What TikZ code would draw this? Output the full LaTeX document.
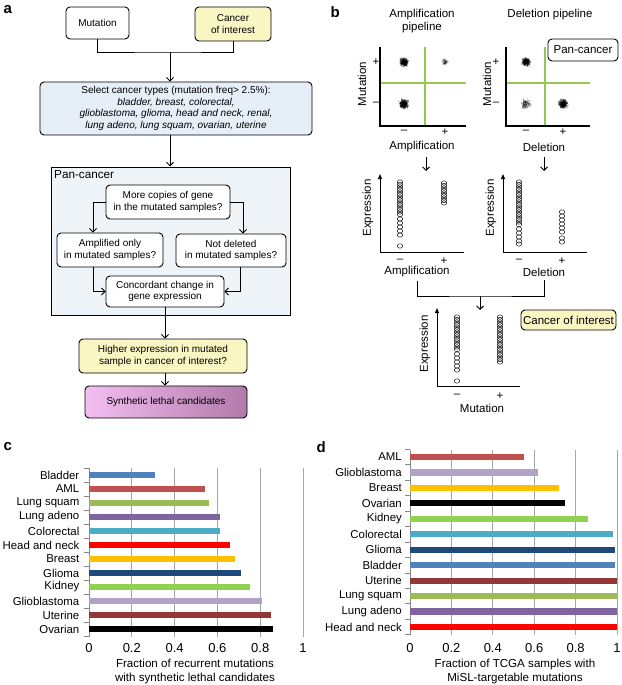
\documentclass[tikz,border=0pt]{standalone}
\usepackage{fontspec}
\setmainfont{Liberation Sans}
\usetikzlibrary{arrows.meta}
\definecolor{yel}{HTML}{FAF6C4}
\definecolor{lblue}{HTML}{E6EEF8}
\definecolor{pblue}{HTML}{EFF4F9}
\definecolor{scatgreen}{RGB}{150,200,80}
\definecolor{gridg}{HTML}{A6A6A6}
\definecolor{axg}{HTML}{888888}
\definecolor{pinkL}{HTML}{F3BEF1}
\definecolor{pinkR}{HTML}{B07AAA}
\definecolor{cBlue}{HTML}{4F81BD}
\definecolor{cRed}{HTML}{C0504D}
\definecolor{cGreen}{HTML}{9BBB59}
\definecolor{cPurple}{HTML}{8064A2}
\definecolor{cCyan}{HTML}{4BACC6}
\definecolor{cBright}{HTML}{FF0000}
\definecolor{cOrange}{HTML}{FFC000}
\definecolor{cNavy}{HTML}{1F497D}
\definecolor{cLime}{HTML}{92D050}
\definecolor{cLilac}{HTML}{B3A2C7}
\definecolor{cMaroon}{HTML}{943634}
\definecolor{cBlack}{HTML}{000000}
\newcommand\fsa{\fontsize{10}{11.5}\selectfont}
\newcommand\fsb{\fontsize{11.5}{13}\selectfont}
\newcommand\fsc{\fontsize{11.6}{14}\selectfont}
\newcommand\fscat{\fontsize{11.4}{14}\selectfont}
\newcommand\fst{\fontsize{13}{15}\selectfont}
\newcommand\fsl{\fontsize{15}{17}\selectfont\bfseries}
\newcommand\drawcluster[4]{%
  \foreach \i in {1,...,#2}{%
    \pgfmathsetmacro\dx{#3*(rand+rand+rand)}%
    \pgfmathsetmacro\dy{#3*(rand+rand+rand)}%
    \fill[black,opacity=#4] ([shift={(\dx,\dy)}]#1) circle (0.8);
  }}
\newcommand\expcol[2]{%
  \foreach \yy in {#2}{\draw[line width=0.5pt] (#1,\yy) ellipse (2.7 and 2.2);}}
\tikzset{
  box/.style={draw, line width=0.9pt, rounded corners=4pt, align=center, font=\fsa, inner sep=1pt},
  arr/.style={-{Straight Barb[length=3.5pt,width=7pt]}, line width=0.9pt},
  ln/.style={line width=0.9pt},
  axarr/.style={-{Triangle[length=5pt,width=4pt]}, line width=1pt},
  panlab/.style={font=\fsl, anchor=west},
  catlab/.style={font=\fscat, anchor=east},
  ticklab/.style={font=\fst},
  gline/.style={draw=scatgreen, line width=1.3pt},
}
\begin{document}
\begin{tikzpicture}[x=1pt,y=-1pt]
\useasboundingbox (0,0) rectangle (621,685);
\pgfmathsetseed{7}
% ---------------- panel a ----------------
\node[panlab] (la) at (0,10) {a};
\node[box, fill=white, minimum width=63, minimum height=32] (mut) at (97.5,23) {Mutation};
\node[box, fill=yel, minimum width=76, minimum height=34] (coi) at (233,24) {Cancer\\of interest};
\node[box, fill=lblue, minimum width=272, minimum height=53] (sel) at (176,108.5)
  {Select cancer types (mutation freq> 2.5\%):\\\textit{bladder, breast, colorectal,}\\\textit{glioblastoma, glioma, head and neck, renal,}\\\textit{lung adeno, lung squam, ovarian, uterine}};
\node[draw, line width=1pt, fill=pblue, minimum width=239, minimum height=148, inner sep=0] (pan) at (170.5,241) {};
\node[font=\fontsize{11.7}{13}\selectfont, anchor=west, inner sep=0] (panlabel) at (54,175) {Pan-cancer};
\node[box, fill=white, minimum width=124, minimum height=34] (more) at (168,202) {More copies of gene\\in the mutated samples?};
\node[box, fill=white, minimum width=106, minimum height=34] (ampl) at (110,250) {Amplified only\\in mutated samples?};
\node[box, fill=white, minimum width=110, minimum height=33] (notd) at (231,250.5) {Not deleted\\in mutated samples?};
\node[box, fill=white, minimum width=118, minimum height=31] (conc) at (165,291.5) {Concordant change in\\gene expression};
\node[box, fill=yel, minimum width=168, minimum height=34] (high) at (163,356) {Higher expression in mutated\\sample in cancer of interest?};
\node[box, left color=pinkL, right color=pinkR, minimum width=162, minimum height=32] (syn) at (166,402) {Synthetic lethal candidates};
\coordinate (j1) at (170,52);
\coordinate (aL) at (93,0);
\coordinate (aR) at (243,0);
\coordinate (bR) at (240,0);
\coordinate (cx) at (165,0);
\draw[ln] (mut.south) |- (j1) -| (coi.south);
\draw[arr] (j1) -- (j1 |- sel.north);
\draw[arr] (j1 |- sel.south) -- (j1 |- pan.north);
\draw[arr] (more.west) -| (aL |- ampl.north);
\draw[arr] (more.east) -| (aR |- notd.north);
\draw[arr] (aL |- ampl.south) |- (conc.west);
\draw[arr] (bR |- notd.south) |- (conc.east);
\draw[arr] (cx |- conc.south) -- (cx |- high.north);
\draw[arr] (cx |- high.south) -- (cx |- syn.north);
% ---------------- panel b ----------------
\node[panlab] (lb) at (327,12) {b};
\node[font=\fsb, align=center] (amppipe) at (422,21.5) {Amplification\\pipeline};
\node[font=\fsb] (delpipe) at (550,15) {Deletion pipeline};
\node[box, font=\fsb, fill=white, minimum width=70, minimum height=22] (pcb) at (583,50) {Pan-cancer};
% scatter 1
\path[gline] (425,47) -- (425,126);
\path[gline] (380,83) -- (466,83);
\draw[line width=1.1pt] (380,47) -- (380,126) -- (466,126);
\coordinate (c11) at (404,62);
\coordinate (c12) at (404,104);
\coordinate (c13) at (445,62);
\drawcluster{c11}{320}{1.8}{0.32}
\drawcluster{c12}{320}{1.9}{0.32}
\drawcluster{c13}{60}{1.3}{0.22}
\node[font=\fsb, rotate=90] (mt1) at (362,84) {Mutation};
\node[font=\fsb] (p1p) at (376,62) {+};
\node[font=\fsb] (p1m) at (376,104) {--};
\node[font=\fsb] (p1xm) at (404,132) {--};
\node[font=\fsb] (p1xp) at (445,132) {+};
\node[font=\fsb] (amplab1) at (422,147) {Amplification};
\coordinate (a1s) at (426,157);
\coordinate (a1e) at (426,171);
\draw[arr] (a1s) -- (a1e);
% scatter 2
\path[gline] (545,47) -- (545,126);
\path[gline] (506,83) -- (590,83);
\draw[line width=1.1pt] (506,47) -- (506,126) -- (590,126);
\coordinate (c21) at (526,62);
\coordinate (c22) at (526,104);
\coordinate (c23) at (563,104);
\drawcluster{c21}{280}{1.7}{0.32}
\drawcluster{c22}{120}{2.2}{0.25}
\drawcluster{c23}{320}{1.9}{0.32}
\node[font=\fsb, rotate=90] (mt2) at (487,84) {Mutation};
\node[font=\fsb] (p2p) at (496,62) {+};
\node[font=\fsb] (p2m) at (496,104) {--};
\node[font=\fsb] (p2xm) at (526,132) {--};
\node[font=\fsb] (p2xp) at (563,132) {+};
\node[font=\fsb] (dellab1) at (544,147) {Deletion};
\coordinate (d1s) at (544,157);
\coordinate (d1e) at (544,171);
\draw[arr] (d1s) -- (d1e);
% expression 1
\draw[axarr] (380,252) -- (380,174);
\draw[line width=1pt] (380,252) -- (464,252);
\expcol{400}{182,184.5,...,214.5,219,223,227,231,235,246}
\expcol{444}{183,185.5,...,203}
\node[font=\fsb, rotate=90] (ex1) at (368,208) {Expression};
\node[font=\fsb] (e1m) at (400,261) {--};
\node[font=\fsb] (e1p) at (444,261) {+};
\node[font=\fsb] (amplab2) at (417,272) {Amplification};
% expression 2
\draw[axarr] (503,252) -- (503,174);
\draw[line width=1pt] (503,252) -- (587,252);
\expcol{519}{182,184.5,...,224.5,229,233,237,241,244}
\expcol{562}{212,216,220,224,228,232,238,242}
\node[font=\fsb, rotate=90] (ex2) at (491,208) {Expression};
\node[font=\fsb] (e2m) at (519,261) {--};
\node[font=\fsb] (e2p) at (562,261) {+};
\node[font=\fsb] (dellab2) at (544,272) {Deletion};
% merge
\coordinate (mj) at (480,296);
\coordinate (me) at (480,310);
\draw[ln] (amplab2.south) |- (mj) -| (dellab2.south);
\draw[arr] (mj) -- (me);
% expression 3
\draw[axarr] (437,386) -- (437,308);
\draw[line width=1pt] (437,386) -- (520,386);
\expcol{457}{317,319.5,...,349.5,354,358,362,366,370,381}
\expcol{500}{317,319.5,...,362}
\node[font=\fsb, rotate=90] (ex3) at (425,344) {Expression};
\node[font=\fsb] (e3m) at (457,396) {--};
\node[font=\fsb] (e3p) at (500,396) {+};
\node[font=\fsb] (mutlab3) at (482,408) {Mutation};
\node[box, font=\fsb, fill=yel, minimum width=95, minimum height=20, inner sep=0.5pt] (coib) at (568.5,320) {Cancer of interest};
% ---------------- panel c ----------------
\node[panlab] (lc) at (0,447) {c};
\foreach \v in {0.2,0.4,0.6,0.8,1} {\draw[gridg, line width=0.8pt] ({89+214*\v},468) -- ({89+214*\v},637);}
\draw[axg, line width=0.8pt] (89,468) -- (89,637);
\foreach \k in {0,...,12} {\draw[axg, line width=0.8pt] (84,{468+14*\k}) -- (89,{468+14*\k});}
\foreach \nm/\val/\col [count=\i from 0] in {Bladder/0.31/cBlue, AML/0.54/cRed, Lung squam/0.56/cGreen, Lung adeno/0.61/cPurple, Colorectal/0.61/cCyan, Head and neck/0.66/cBright, Breast/0.68/cOrange, Glioma/0.71/cNavy, Kidney/0.75/cLime, Glioblastoma/0.81/cLilac, Uterine/0.85/cMaroon, Ovarian/0.86/cBlack} {
  \pgfmathsetmacro\yc{475+14*\i}
  \fill[\col] (89,\yc-2.9) rectangle ({89+214*\val},\yc+2.9);
  \node[catlab, inner sep=1pt] (cl\i) at (80.5,\yc) {\nm};
}
\foreach \v/\t [count=\j] in {0/0,0.2/0.2,0.4/0.4,0.6/0.6,0.8/0.8,1/1} {\node[ticklab] (ct\j) at ({89+214*\v},648) {\t};}
\node[font=\fsc, align=center] (cxl) at (195,671) {Fraction of recurrent mutations\\with synthetic lethal candidates};
% ---------------- panel d ----------------
\node[panlab] (ld) at (313,447) {d};
\foreach \v in {0.2,0.4,0.6,0.8,1} {\draw[gridg, line width=0.8pt] ({410+207*\v},450) -- ({410+207*\v},635);}
\draw[axg, line width=0.8pt] (410,450) -- (410,635);
\foreach \k in {0,...,12} {\draw[axg, line width=0.8pt] (405,{449.3+15.45*\k}) -- (410,{449.3+15.45*\k});}
\foreach \nm/\val/\col [count=\i from 0] in {AML/0.55/cRed, Glioblastoma/0.62/cLilac, Breast/0.72/cOrange, Ovarian/0.75/cBlack, Kidney/0.86/cLime, Colorectal/0.98/cCyan, Glioma/0.99/cNavy, Bladder/0.99/cBlue, Uterine/1/cMaroon, Lung squam/1/cGreen, Lung adeno/1/cPurple, Head and neck/1/cBright} {
  \pgfmathsetmacro\yc{457+15.45*\i}
  \fill[\col] (410,\yc-3.1) rectangle ({410+207*\val},\yc+3.1);
  \node[catlab, inner sep=1pt] (dl\i) at (403,\yc) {\nm};
}
\foreach \v/\t [count=\j] in {0/0,0.2/0.2,0.4/0.4,0.6/0.6,0.8/0.8,1/1} {\node[ticklab] (dt\j) at ({410+207*\v},648) {\t};}
\node[font=\fsc, align=center] (dxl) at (515,671) {Fraction of TCGA samples with\\MiSL-targetable mutations};
\end{tikzpicture}
\end{document}
